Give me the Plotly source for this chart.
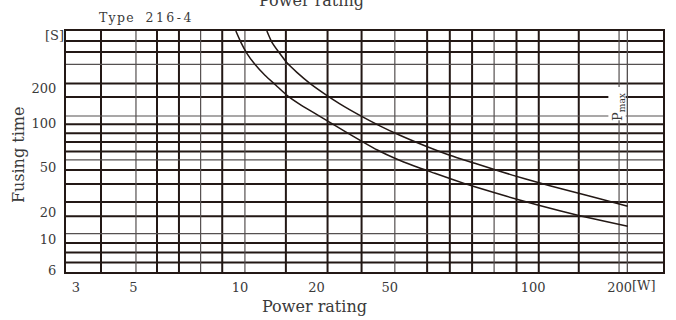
import numpy as np
import plotly.graph_objects as go

# ---- printed scale: tick labels and where the chart prints them (percent of axis) ----
x_tick_values = [3, 5, 10, 20, 50, 100, 200]
x_tick_text = ["3", "5", "10", "20", "50", "100", "200"]
x_tick_pos = [1.67, 11.27, 29.13, 41.97, 54.24, 78.24, 92.75]

y_tick_values = [6, 10, 20, 50, 100, 200]
y_tick_text = ["6", "10", "20", "50", "100", "200"]
y_tick_pos = [0.71, 13.44, 24.90, 43.32, 61.58, 76.10]

# ---- printed grid of the chart (percent of axis) ----
x_grid_major = [5.86, 15.24, 18.92, 26.17, 36.83, 43.81, 49.51, 60.49, 64.29,
                68.02, 75.46, 79.19, 85.89]
x_grid_minor = [11.72, 22.55, 29.97, 55.08, 71.71, 92.64, 94.04]
y_grid_major = [95.85, 91.29, 78.17, 72.61, 61.29, 57.55, 53.94, 49.96, 42.32,
                36.51, 29.05, 23.11, 12.03, 8.05, 3.90]
y_grid_minor = [86.18, 64.73, 46.56, 15.93]

# ---- fusing curves: power rating [W] vs fusing time [s] ----
power_a = [9.74, 10.09, 10.65, 11.45, 12.54, 13.85, 15.30, 17.20, 19.70, 23.62,
           28.49, 35.25, 43.05, 51.23, 56.44, 62.16, 68.48, 75.43, 83.07, 92.43,
           104.6, 123.8, 145.2, 177.4, 213.2]
time_a = [626, 500.2, 402.5, 323.6, 260.3, 213.5, 175.1, 146.6, 122.6, 102.6,
          88.56, 75.64, 65.68, 57.88, 51.05, 44.44, 38.47, 33.63, 29.72, 25.99,
          22.96, 20.49, 18.18, 15.83, 13.96]

power_b = [12.76, 13.36, 14.23, 15.30, 16.74, 18.83, 21.90, 26.76, 34.37, 44.13,
           52.50, 59.23, 66.83, 75.43, 85.11, 96.07, 114.3, 139.6, 170.4, 213.2]
time_b = [626, 500, 410.4, 333.3, 276.1, 222.1, 182.2, 148.0, 117.8, 96.56,
          83.17, 70.51, 60.69, 53.49, 46.31, 39.67, 34.34, 30.03, 26.26, 22.49]


def to_pos(values, tick_values, tick_pos):
    """Printed (piecewise logarithmic) scale of the chart, extended linearly at the ends."""
    lv = np.log10(np.asarray(values, dtype=float))
    lt = np.log10(np.asarray(tick_values, dtype=float))
    tp = np.asarray(tick_pos, dtype=float)
    out = np.interp(lv, lt, tp)
    lo = lv < lt[0]
    hi = lv > lt[-1]
    out[lo] = tp[0] + (lv[lo] - lt[0]) * (tp[1] - tp[0]) / (lt[1] - lt[0])
    out[hi] = tp[-1] + (lv[hi] - lt[-1]) * (tp[-1] - tp[-2]) / (lt[-1] - lt[-2])
    return out


INK = "#231815"
THIN = "#555050"
TXT = "#3a3a3a"
FONT = "DejaVu Serif"

fig = go.Figure()

for pw, tm in ((power_a, time_a), (power_b, time_b)):
    fig.add_trace(go.Scatter(
        x=to_pos(pw, x_tick_values, x_tick_pos),
        y=to_pos(tm, y_tick_values, y_tick_pos),
        mode="lines",
        line=dict(color=INK, width=1.5, shape="spline", smoothing=0.6),
        hoverinfo="skip",
        showlegend=False,
    ))

shapes = []
for v in x_grid_major:
    shapes.append(dict(type="line", xref="x", yref="y", x0=v, x1=v, y0=0, y1=100,
                       line=dict(color=INK, width=2), layer="below"))
for v in y_grid_major:
    shapes.append(dict(type="line", xref="x", yref="y", x0=0, x1=100, y0=v, y1=v,
                       line=dict(color=INK, width=2), layer="below"))
for v in x_grid_minor:
    shapes.append(dict(type="line", xref="x", yref="y", x0=v, x1=v, y0=0, y1=100,
                       line=dict(color=THIN, width=1.2), layer="below"))
for v in y_grid_minor:
    shapes.append(dict(type="line", xref="x", yref="y", x0=0, x1=100, y0=v, y1=v,
                       line=dict(color=THIN, width=1.2), layer="below"))
# white label box for P max, then the neighbouring thin line again
shapes.append(dict(type="rect", xref="x", yref="y", x0=90.85, x1=93.75, y0=62.95, y1=76.76,
                   fillcolor="white", line=dict(width=0), layer="below"))
shapes.append(dict(type="line", xref="x", yref="y", x0=x_grid_minor[-1], x1=x_grid_minor[-1],
                   y0=0, y1=100, line=dict(color=THIN, width=1.2), layer="below"))

annotations = [
    dict(text="P<sub>max</sub>", x=92.64, y=68.5, xref="x", yref="y", showarrow=False,
         textangle=-90, font=dict(family=FONT, size=13, color=TXT)),
    dict(text="[W]", x=94.43, y=-0.058, xref="x", yref="paper", xanchor="left",
         yanchor="middle", showarrow=False, font=dict(family=FONT, size=13, color=TXT)),
    dict(text="[S]", x=0, y=98.2, xref="paper", yref="y", xanchor="right",
         yanchor="middle", showarrow=False, font=dict(family=FONT, size=13, color=TXT)),
    dict(text="T\u200ay\u200ap\u200ae\u00a0\u00a0\u00a02\u20091\u20096\u2009-\u20094",
         x=0.0514, y=1.055, xref="paper", yref="paper",
         xanchor="left", yanchor="middle", showarrow=False,
         font=dict(family=FONT, size=12.5, color=TXT)),
    dict(text="Power rating", x=0.417, y=-0.145, xref="paper", yref="paper",
         xanchor="center", yanchor="middle", showarrow=False,
         font=dict(family=FONT, size=16, color=TXT)),
    dict(text="Power rating", x=0.412, y=1.128, xref="paper", yref="paper",
         xanchor="center", yanchor="middle", showarrow=False,
         font=dict(family=FONT, size=16, color=TXT)),
    dict(text="Fusing time", x=-0.0804, y=0.485, xref="paper", yref="paper",
         xanchor="center", yanchor="middle", showarrow=False, textangle=-90,
         font=dict(family=FONT, size=16, color=TXT)),
]

fig.update_layout(
    width=676, height=320,
    margin=dict(l=66, r=13, t=31, b=48, autoexpand=False),
    paper_bgcolor="white", plot_bgcolor="white",
    shapes=shapes, annotations=annotations,
    xaxis=dict(range=[0, 100], showgrid=False, zeroline=False, automargin=False,
               showline=True, mirror=True, linecolor=INK, linewidth=2,
               tickmode="array", tickvals=x_tick_pos, ticktext=x_tick_text,
               ticks="", ticklabelstandoff=2,
               tickfont=dict(family=FONT, size=13, color=TXT), fixedrange=True),
    yaxis=dict(range=[0, 100], showgrid=False, zeroline=False, automargin=False,
               showline=True, mirror=True, linecolor=INK, linewidth=2,
               tickmode="array", tickvals=y_tick_pos, ticktext=y_tick_text,
               ticks="", ticklabelstandoff=5,
               tickfont=dict(family=FONT, size=13, color=TXT), fixedrange=True),
)

fig.write_html(
    "out.html",
    config={"displayModeBar": False, "staticPlot": True},
    post_script="document.body.style.margin='0';document.body.style.overflow='hidden';",
)
